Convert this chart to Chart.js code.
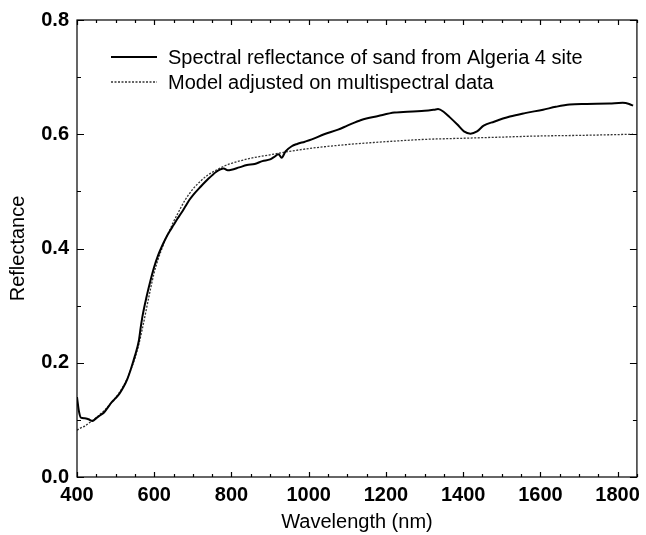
<!DOCTYPE html>
<html>
<head>
<meta charset="utf-8">
<script src="https://cdn.jsdelivr.net/npm/chart.js@4"></script>
<style>
  html, body { margin: 0; padding: 0; background: #fff; }
  #wrap { width: 646px; height: 535px; }
</style>
</head>
<body>
<div id="wrap"><canvas id="chart" width="646" height="535"></canvas></div>
<script>
// Datos
const sandLabel = 'Spectral reflectance of sand from Algeria 4 site';
const sandWl = [400, 405, 410, 420, 430, 440, 450, 460, 470, 480, 490, 500, 510, 520, 530, 540, 550, 560, 565, 570, 580, 590,
  600, 610, 620, 630, 640, 650, 660, 670, 680, 690, 700, 720, 740, 760, 770, 780, 790, 800, 820, 840, 860, 880, 900, 910,
  922, 930, 940, 956, 970, 990, 1008, 1040, 1076, 1100, 1136, 1180, 1222, 1270, 1300, 1325, 1335, 1350, 1365, 1385, 1402,
  1419, 1436, 1453, 1480, 1521, 1560, 1607, 1640, 1676, 1720, 1779, 1813, 1830, 1840];
const sandRefl = [0.140, 0.115, 0.104, 0.103, 0.101, 0.098, 0.103, 0.108, 0.113, 0.122, 0.131, 0.138, 0.146, 0.157, 0.171, 0.190,
  0.212, 0.238, 0.262, 0.283, 0.315, 0.343, 0.368, 0.388, 0.404, 0.418, 0.430, 0.441, 0.452, 0.462, 0.473, 0.484, 0.493, 0.508,
  0.522, 0.534, 0.538, 0.540, 0.537, 0.538, 0.542, 0.546, 0.548, 0.553, 0.556, 0.560, 0.565, 0.559, 0.570, 0.579, 0.583, 0.587,
  0.591, 0.600, 0.608, 0.615, 0.625, 0.632, 0.638, 0.640, 0.641, 0.643, 0.644, 0.639, 0.630, 0.617, 0.605, 0.601, 0.605, 0.615,
  0.622, 0.631, 0.637, 0.643, 0.648, 0.652, 0.653, 0.654, 0.655, 0.653, 0.650];

const modelLabel = 'Model adjusted on multispectral data';
const modelWl = [400, 410, 420, 430, 440, 450, 460, 470, 480, 490, 500, 510, 520, 530, 540, 550, 560, 570, 580, 590, 600, 610,
  620, 630, 640, 650, 660, 670, 680, 690, 700, 720, 740, 760, 780, 800, 850, 900, 950, 1000, 1100, 1200, 1300, 1400, 1500,
  1600, 1700, 1840];
const modelRefl = [0.082, 0.086, 0.089, 0.094, 0.099, 0.104, 0.110, 0.116, 0.123, 0.131, 0.139, 0.148, 0.159, 0.172, 0.189,
  0.208, 0.232, 0.262, 0.295, 0.328, 0.358, 0.381, 0.400, 0.418, 0.432, 0.447, 0.460, 0.473, 0.485, 0.495, 0.504, 0.518, 0.529,
  0.537, 0.544, 0.549, 0.558, 0.564, 0.570, 0.575, 0.582, 0.587, 0.591, 0.593, 0.595, 0.597, 0.598, 0.600];

const xTickValues = [400, 600, 800, 1000, 1200, 1400, 1600, 1800];
const yTickValues = [0.0, 0.2, 0.4, 0.6, 0.8];

const FONT = "'Liberation Sans', Arial, Helvetica, sans-serif";

// marcas hacia dentro + marco + leyenda
const framePlugin = {
  id: 'frame',
  afterDraw(chart) {
    const { ctx, chartArea: a, scales: { x, y } } = chart;
    ctx.save();
    ctx.strokeStyle = '#000';
    ctx.lineWidth = 1.2;
    ctx.strokeRect(a.left, a.top, a.right - a.left, a.bottom - a.top);
    ctx.beginPath();
    for (let v = 400; v <= 1850; v += 50) {
      const px = Math.round(x.getPixelForValue(v)) + 0.5;
      const len = v % 200 === 0 ? 5 : 3;
      ctx.moveTo(px, a.bottom); ctx.lineTo(px, a.bottom - len);
      ctx.moveTo(px, a.top); ctx.lineTo(px, a.top + len);
    }
    for (let i = 0; i <= 8; i++) {
      const py = Math.round(y.getPixelForValue(i / 10)) + 0.5;
      const len = i % 2 === 0 ? 7 : 4;
      ctx.moveTo(a.left, py); ctx.lineTo(a.left + len, py);
      ctx.moveTo(a.right, py); ctx.lineTo(a.right - len, py);
    }
    ctx.stroke();

    // leyenda
    ctx.font = '20px ' + FONT;
    ctx.textBaseline = 'middle';
    ctx.fillStyle = '#000';
    chart.data.datasets.forEach((ds, i) => {
      const ly = 57 + i * 25;
      ctx.beginPath();
      ctx.strokeStyle = ds.borderColor;
      ctx.lineWidth = ds.borderWidth;
      ctx.setLineDash(ds.borderDash || []);
      ctx.moveTo(111, ly); ctx.lineTo(157, ly);
      ctx.stroke();
      ctx.setLineDash([]);
      ctx.fillText(ds.label, 168, ly + 1);
    });
    ctx.restore();
  }
};

new Chart(document.getElementById('chart'), {
  type: 'line',
  data: {
    datasets: [
      {
        label: sandLabel,
        data: sandWl.map((w, i) => ({ x: w, y: sandRefl[i] })),
        borderColor: '#000',
        borderWidth: 2,
        pointRadius: 0,
        cubicInterpolationMode: 'monotone',
        fill: false
      },
      {
        label: modelLabel,
        data: modelWl.map((w, i) => ({ x: w, y: modelRefl[i] })),
        borderColor: '#333',
        borderWidth: 1.3,
        borderDash: [2, 1.5],
        pointRadius: 0,
        cubicInterpolationMode: 'monotone',
        fill: false
      }
    ]
  },
  options: {
    responsive: false,
    animation: false,
    layout: { padding: { left: 0, right: 4, top: 15, bottom: 0 } },
    plugins: { legend: { display: false }, tooltip: { enabled: false } },
    scales: {
      x: {
        type: 'linear',
        min: 400,
        max: 1850,
        grid: { display: false, drawTicks: false },
        border: { display: false },
        afterBuildTicks: s => { s.ticks = xTickValues.map(v => ({ value: v })); },
        afterFit: s => { s.height = 58; },
        ticks: {
          padding: 6,
          maxRotation: 0,
          color: '#000',
          font: { family: FONT, size: 20, weight: 'bold' },
          callback: v => String(v)
        },
        title: {
          display: true,
          text: 'Wavelength (nm)',
          color: '#000',
          padding: { top: 0, bottom: 1 },
          font: { family: FONT, size: 20 }
        }
      },
      y: {
        min: 0,
        max: 0.8,
        grid: { display: false, drawTicks: false },
        border: { display: false },
        afterBuildTicks: s => { s.ticks = yTickValues.map(v => ({ value: v })); },
        afterFit: s => { s.width = 77; },
        ticks: {
          padding: 8,
          color: '#000',
          font: { family: FONT, size: 20, weight: 'bold' },
          callback: v => Number(v).toFixed(1)
        },
        title: {
          display: true,
          text: 'Reflectance',
          color: '#000',
          padding: { top: 6, bottom: 0 },
          font: { family: FONT, size: 20 }
        }
      }
    }
  },
  plugins: [framePlugin]
});
</script>
</body>
</html>
